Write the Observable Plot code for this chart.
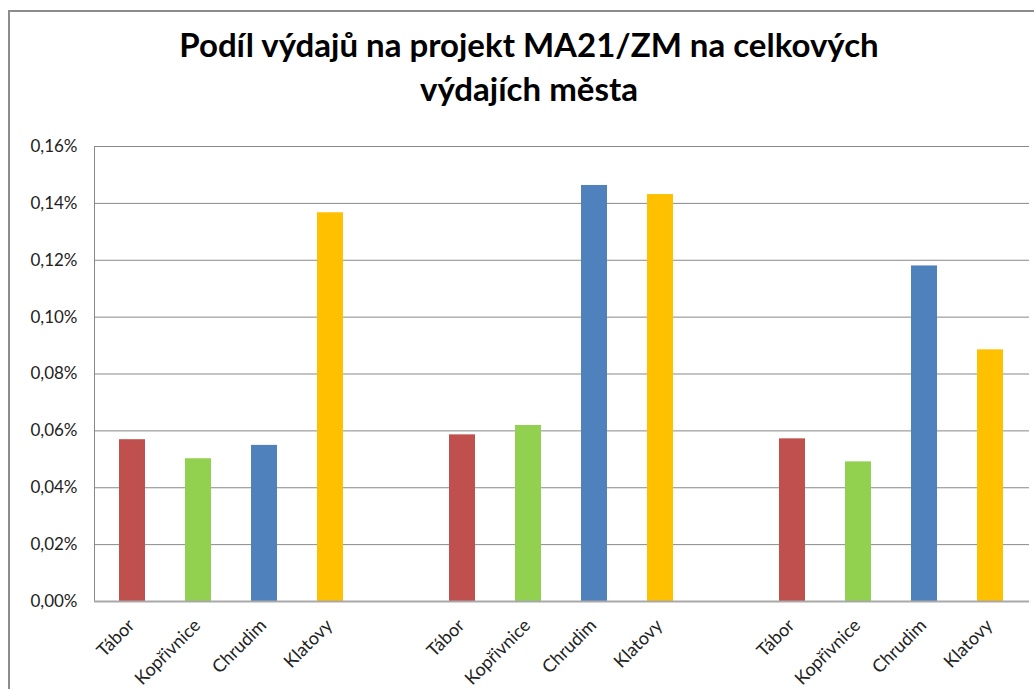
<!DOCTYPE html>
<html>
<head>
<meta charset="utf-8">
<script src="https://cdn.jsdelivr.net/npm/d3@7"></script>
<script src="https://cdn.jsdelivr.net/npm/@observablehq/plot@0.6"></script>
<style>
  html, body { margin: 0; padding: 0; background: #fff; width: 1034px; height: 689px; overflow: hidden; }
  #frame { position: absolute; left: 8px; top: 10px; width: 1100px; height: 800px; border: 2px solid #8c8c8c; box-sizing: border-box; }
  #title { position: absolute; left: 0; width: 1058px; top: 22px; text-align: center; font-family: Lato, sans-serif; font-weight: bold; font-size: 33px; line-height: 44px; color: #000; }
  #chart { position: absolute; left: 0; top: 130px; }
  #chart svg text { fill: #222; }
  #chart svg g.xlab text { font-size: 18px; }
  #chart svg g.ylab text { font-size: 17px; }
</style>
</head>
<body>
<div id="frame"></div>
<div id="title">Podíl výdajů na projekt MA21/ZM na celkových<br>výdajích města</div>
<div id="chart"></div>
<script>
const cities = ["Tábor", "Kopřivnice", "Chrudim", "Klatovy"];
const colors = ["#C0504D", "#92D050", "#4F81BD", "#FFC000"];
// share of city expenditure, in percent
const group1 = [0.0569, 0.0502, 0.0549, 0.1367];
const group2 = [0.0586, 0.0619, 0.1463, 0.1431];
const group3 = [0.0572, 0.0491, 0.1180, 0.0885];
const yTicks = [0, 0.02, 0.04, 0.06, 0.08, 0.10, 0.12, 0.14, 0.16];

const groups = [group1, group2, group3];
const slots = [];
const data = [];
groups.forEach((g, gi) => {
  cities.forEach((c, ci) => {
    const key = `${gi}-${c}`;
    slots.push(key);
    data.push({key, city: c, value: g[ci]});
  });
  if (gi < groups.length - 1) slots.push(`gap${gi}`);
});
const labelOf = k => k.startsWith("gap") ? "" : k.split("-").slice(1).join("-");
const fmt = v => v.toFixed(2).replace(".", ",") + "%";

const chart = Plot.plot({
  width: 1034,
  height: 559,
  marginLeft: 94,
  marginRight: 5,
  marginTop: 16,
  marginBottom: 88,
  style: {fontFamily: "Lato, sans-serif", fontSize: "16px", color: "#222", background: "transparent"},
  x: {type: "band", domain: slots, paddingInner: 0.6, paddingOuter: 0.3, axis: null},
  y: {domain: [0, 0.16], axis: null},
  color: {domain: cities, range: colors},
  marks: [
    Plot.ruleY(yTicks.slice(1), {stroke: "#888", strokeWidth: 1, strokeOpacity: 1}),
    Plot.frame({anchor: "left", stroke: "#888", strokeWidth: 1}),
    Plot.barY(data, {x: "key", y: "value", fill: "city"}),
    Plot.ruleY([0], {stroke: "#a8a8a8", strokeWidth: 2}),
    Plot.axisY(yTicks, {tickSize: 0, tickPadding: 17, tickFormat: fmt, label: null}),
    Plot.axisX(slots.filter(s => !s.startsWith("gap")), {tickSize: 0, tickPadding: 21, dx: -1, tickRotate: -45, tickFormat: labelOf, label: null})
  ]
});
chart.querySelectorAll("g[aria-label='y-axis tick label']").forEach(g => g.classList.add("ylab"));
chart.querySelectorAll("g[aria-label='x-axis tick label']").forEach(g => g.classList.add("xlab"));
document.getElementById("chart").appendChild(chart);
</script>
</body>
</html>
